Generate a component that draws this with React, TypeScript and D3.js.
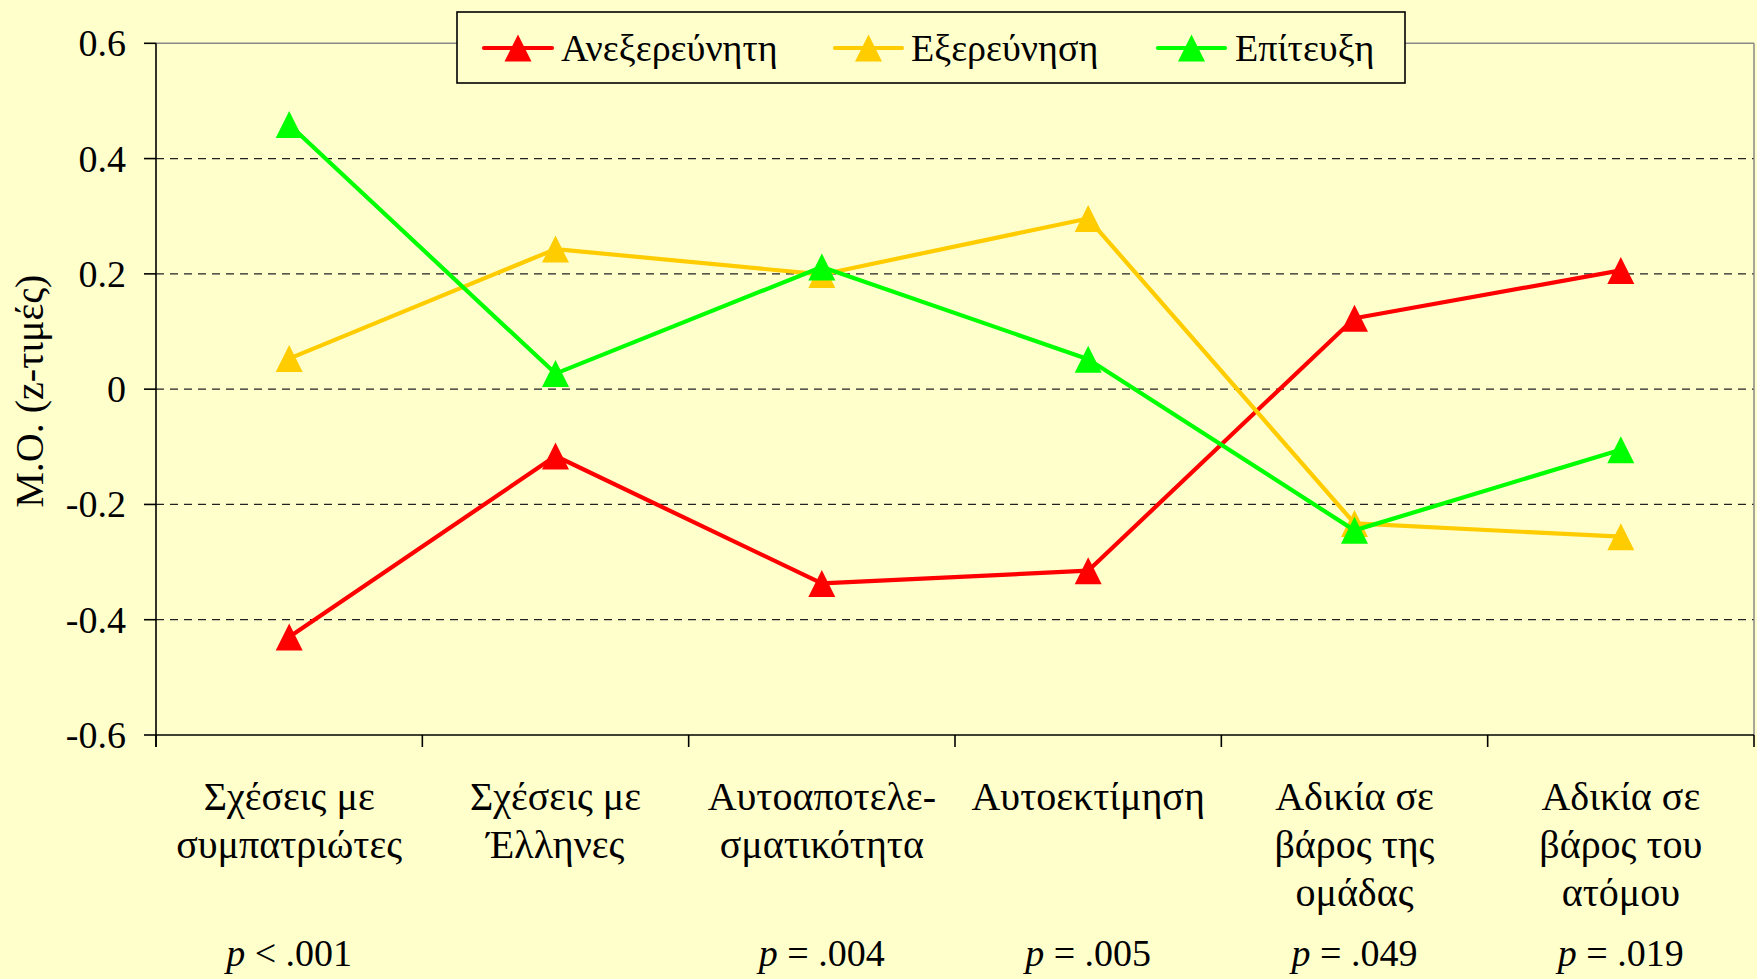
import React from 'react';
import * as d3 from 'd3';

// categories (multi-line labels) and p-values under them
const categories = [
    ['Σχέσεις με', 'συμπατριώτες'],
    ['Σχέσεις με', 'Έλληνες'],
    ['Αυτοαποτελε-', 'σματικότητα'],
    ['Αυτοεκτίμηση'],
    ['Αδικία σε', 'βάρος της', 'ομάδας'],
    ['Αδικία σε', 'βάρος του', 'ατόμου'],
];
const pSigns = ['<', '', '=', '=', '=', '='];
const pValues = ['.001', '', '.004', '.005', '.049', '.019'];

const seriesNames = ['Ανεξερεύνητη', 'Εξερεύνηση', 'Επίτευξη'];
const seriesColors = ['#FF0000', '#FFCC00', '#00FF00'];
const anexereuniti = [-0.43, -0.116, -0.337, -0.315, 0.123, 0.206];
const exereunisi = [0.053, 0.243, 0.199, 0.296, -0.233, -0.256];
const epiteuxi = [0.459, 0.027, 0.212, 0.052, -0.245, -0.105];
const seriesValues = [anexereuniti, exereunisi, epiteuxi];

const yTicks = [-0.6, -0.4, -0.2, 0, 0.2, 0.4, 0.6];

const W = 1757;
const H = 979;
const FONT = "'Liberation Serif', 'Times New Roman', 'DejaVu Serif', serif";

const tri = (s: number) => `M0,${-s / 2}L${s / 2},${s / 2}L${-s / 2},${s / 2}Z`;
const fmt = (t: number) => (t === 0 ? '0' : d3.format('.1f')(t).replace('−', '-'));

export default function App() {
    const left = 156, right = 1754, top = 43.3, bottom = 735;
    const keys = categories.map((_, i) => String(i));

    const xScale = d3.scaleBand().domain(keys).range([left, right]).padding(0);
    const cx = (i: number) => (xScale(String(i)) as number) + xScale.bandwidth() / 2;
    const yScale = d3.scaleLinear().domain([-0.6, 0.6]).range([bottom, top]);

    const line = d3.line<number>()
        .x((_, i) => cx(i))
        .y(d => yScale(d));

    const edges = keys.map(k => xScale(k) as number).concat([right]);

    const legendItems = [
        { lx1: 484, lx2: 552, tx: 561 },
        { lx1: 835, lx2: 902, tx: 911 },
        { lx1: 1158, lx2: 1225, tx: 1235 },
    ];

    const txt = { fontFamily: FONT, fontSize: 38, fill: '#000' } as React.CSSProperties;

    return (
        <div style={{ position: 'absolute', left: 0, top: 0 }}>
            <svg width={W} height={H} style={{ display: 'block', fontFamily: FONT }}>
                <rect x={0} y={0} width={W} height={H} fill="#FFFFCC" />

                {/* gridlines */}
                {yTicks.filter(t => t > -0.6 && t < 0.6).map(t => (
                    <line key={t} x1={left} x2={right} y1={yScale(t)} y2={yScale(t)}
                        stroke="#222" strokeWidth={1.2} strokeDasharray="8,6" />
                ))}
                {/* plot frame top / right */}
                <line x1={left} x2={right} y1={yScale(0.6)} y2={yScale(0.6)} stroke="#888" strokeWidth={1.5} />
                <line x1={right} x2={right} y1={yScale(0.6)} y2={bottom} stroke="#888" strokeWidth={1.5} />

                {/* y axis */}
                <line x1={left} x2={left} y1={top} y2={bottom + 12} stroke="#000" strokeWidth={1.6} />
                {yTicks.map(t => (
                    <g key={t}>
                        <line x1={left - 12} x2={left} y1={yScale(t)} y2={yScale(t)} stroke="#000" strokeWidth={1.6} />
                        <text x={126} y={yScale(t)} dy="0.34em" textAnchor="end" style={txt}>
                            {fmt(t)}
                        </text>
                    </g>
                ))}

                {/* x axis */}
                <line x1={left} x2={right} y1={bottom} y2={bottom} stroke="#000" strokeWidth={1.6} />
                {edges.map((e, i) => (
                    <line key={i} x1={e} x2={e} y1={bottom} y2={bottom + 12} stroke="#000" strokeWidth={1.6} />
                ))}
                {categories.map((lines, i) => (
                    <text key={i} x={cx(i)} textAnchor="middle" style={{ ...txt, fontSize: 40 }}>
                        {lines.map((l, j) => (
                            <tspan key={j} x={cx(i)} y={810 + j * 48}>{l}</tspan>
                        ))}
                    </text>
                ))}
                {pValues.map((p, i) => p ? (
                    <text key={i} x={cx(i)} y={966} textAnchor="middle" style={txt}>
                        <tspan fontStyle="italic">p</tspan>
                        <tspan>{` ${pSigns[i]} ${p}`}</tspan>
                    </text>
                ) : null)}

                {/* y title */}
                <text transform={`translate(43,${(top + bottom) / 2 + 2}) rotate(-90)`} textAnchor="middle" style={{ ...txt, fontSize: 40 }}>
                    M.O. (z-τιμές)
                </text>

                {/* series */}
                {seriesValues.map((vals, s) => (
                    <g key={s}>
                        <path d={line(vals) as string} fill="none" stroke={seriesColors[s]} strokeWidth={4.2} strokeLinejoin="round" />
                        {vals.map((v, i) => (
                            <path key={i} d={tri(27)} transform={`translate(${cx(i)},${yScale(v)})`} fill={seriesColors[s]} />
                        ))}
                    </g>
                ))}

                {/* legend */}
                <rect x={457} y={12} width={948} height={71} fill="#FFFFCC" stroke="#000" strokeWidth={1.6} />
                {legendItems.map((it, s) => (
                    <g key={s}>
                        <line x1={it.lx1} x2={it.lx2} y1={48} y2={48} stroke={seriesColors[s]} strokeWidth={4.2} strokeLinecap="round" />
                        <path d={tri(27)} transform={`translate(${(it.lx1 + it.lx2) / 2},48)`} fill={seriesColors[s]} />
                        <text x={it.tx} y={61} style={txt}>{seriesNames[s]}</text>
                    </g>
                ))}
            </svg>
        </div>
    );
}
